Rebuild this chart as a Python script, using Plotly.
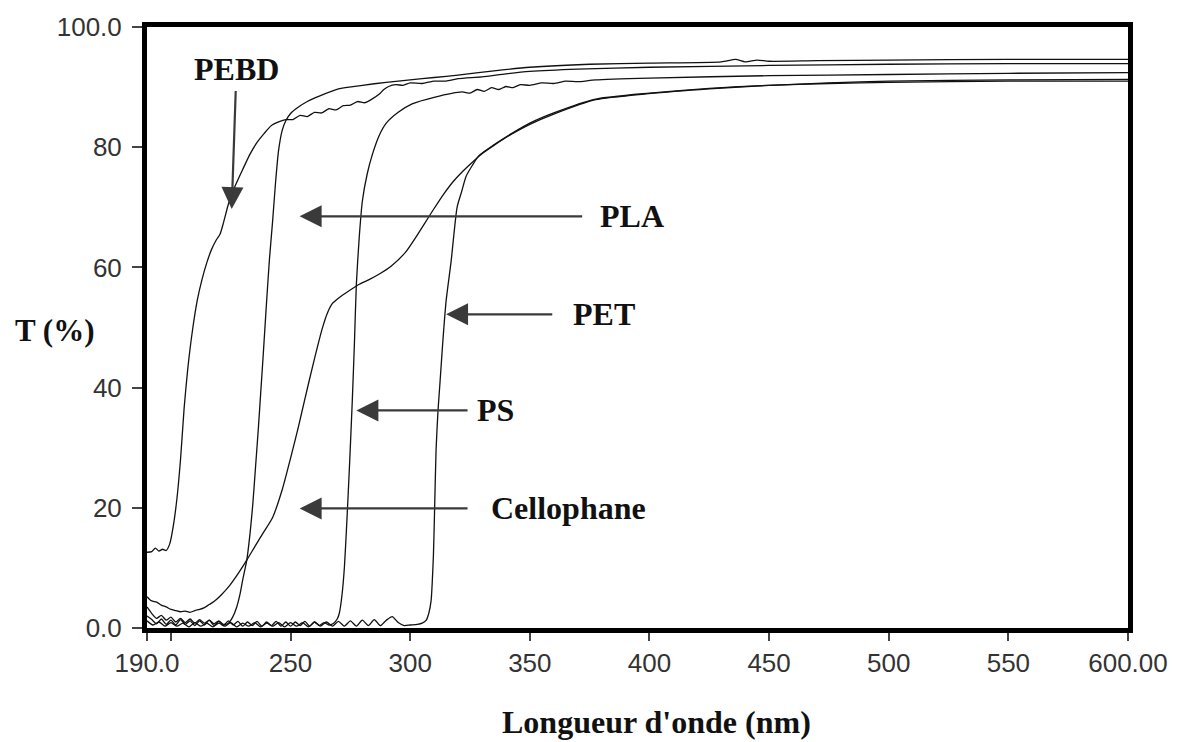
import plotly.graph_objects as go

# ---------------- data (wavelength nm, transmittance %) ----------------
pebd_nm = [190, 192, 193.5, 195, 196.5, 198, 199.5, 201, 202.5, 204, 205.5, 207, 209, 211, 213, 215, 217, 219,
           220.5, 222, 224, 226, 228, 230, 233, 236, 239, 242, 245, 248, 251, 254, 257, 260, 263, 266, 269, 272,
           275, 278, 281, 284, 287, 289, 291, 294, 297, 300, 305, 310, 315, 320, 330, 340, 350, 370, 400, 450,
           500, 550, 600]
pebd_t = [12.6, 12.7, 13.3, 12.8, 13.1, 12.9, 14.0, 17.0, 21.5, 28.0, 36.5, 43.0, 49.5, 54.5, 58.0, 60.8, 63.0, 64.6,
          65.5, 67.5, 70.5, 72.8, 74.6, 76.3, 78.8, 80.8, 82.3, 83.6, 84.2, 84.6, 84.6, 85.3, 85.1, 85.8, 85.7, 86.4,
          86.2, 86.9, 87.0, 87.6, 87.4, 88.0, 88.8, 89.6, 90.1, 90.4, 90.3, 90.7, 90.6, 91.0, 91.0, 91.4, 91.7, 92.2,
          92.6, 93.0, 93.3, 93.6, 93.8, 93.9, 93.9]

pla_nm = [190, 192, 194, 196, 198, 200, 202, 204, 206, 208, 210, 212, 214, 216, 218, 220, 222, 224, 225.8, 227.5,
          228.8, 230, 231.7, 233, 234.2, 235.4, 236.5, 237.5, 238.5, 240, 241.2, 242.5, 243.7, 245, 246.5, 248, 250,
          253, 257, 262, 270, 280, 290, 300, 310, 320, 335, 350, 375, 400, 430, 436, 440, 445, 450, 470, 500, 550, 600]
pla_t = [3.5, 2.4, 1.6, 2.1, 1.3, 1.8, 1.0, 1.6, 0.9, 1.5, 0.8, 1.4, 0.8, 1.3, 0.7, 1.2, 0.6, 0.8, 1.8, 3.5,
         5.5, 8.0, 11.3, 15.5, 20.5, 27.0, 33.0, 39.0, 45.0, 54.4, 61.5, 67.7, 74.0, 79.5, 82.8, 84.4, 85.6,
         86.6, 87.6, 88.5, 89.7, 90.3, 90.8, 91.2, 91.6, 92.0, 92.7, 93.3, 93.8, 94.0, 94.2, 94.6, 94.2, 94.5, 94.3,
         94.4, 94.5, 94.6, 94.6]

ps_nm = [190, 192, 194, 196, 198, 200, 202, 204, 206, 208, 210, 212, 214, 216, 218, 220, 222, 224, 226, 228,
         230, 232, 234, 236, 238, 240, 242, 244, 246, 248, 250, 252, 254, 256, 258, 260, 262, 264, 266, 268,
         269.5, 270.4, 271.5, 272.5, 273.5, 274.6, 275.8, 276.7, 277.5, 278.7, 280, 282, 284.2, 287.1, 290, 295,
         300.8, 310, 321.7, 325, 328, 331, 334, 337, 340, 343, 346, 350, 355, 360, 365, 370, 377.5, 400, 450,
         500, 550, 600]
ps_t = [2.0, 1.4, 0.7, 1.5, 0.6, 1.3, 0.5, 1.4, 0.6, 1.2, 0.4, 1.2, 0.5, 1.3, 0.4, 1.1, 0.4, 1.2, 0.5, 1.1,
        0.3, 1.0, 0.4, 1.1, 0.3, 1.0, 0.4, 1.1, 0.3, 1.0, 0.3, 1.0, 0.4, 1.1, 0.3, 1.0, 0.4, 0.9, 0.5, 0.8,
        1.5, 2.5, 5.5, 10.1, 17.5, 26.7, 37.8, 47.5, 57.2, 65.0, 71.0, 75.5, 78.8, 82.0, 84.0, 85.8,
        87.2, 88.3, 89.2, 89.0, 89.6, 89.3, 89.9, 89.6, 90.1, 89.9, 90.4, 90.3, 90.7, 90.6, 91.0, 90.9, 91.2, 91.5,
        91.9, 92.1, 92.3, 92.4]

cello_nm = [190, 191, 192, 194, 196, 198, 200, 202, 204, 206, 208, 210, 212, 214, 216, 218, 221, 224.6, 228,
            231.7, 235, 238.5, 242.5, 246.5, 250.8, 253.3, 255.8, 259.5, 263.3, 265.5, 267.5, 270.4, 274, 278.75,
            283, 287.1, 292, 298, 302, 306, 310, 314, 318, 322, 326, 330, 335, 342.5, 350, 360, 377.5,
            399.6, 425, 450, 475, 500, 550, 600]
cello_t = [5.2, 4.8, 4.5, 4.3, 3.8, 3.5, 3.1, 2.9, 2.7, 2.8, 2.6, 2.9, 3.1, 3.4, 3.9, 4.4, 5.5, 7.1, 9.0,
           11.3, 13.5, 15.8, 18.4, 23.0, 29.5, 33.5, 37.8, 44.0, 49.9, 52.5, 54.0, 55.0, 56.0, 57.2,
           58.0, 58.9, 60.2, 62.5, 64.8, 67.3, 69.8, 72.2, 74.3, 76.0, 77.5, 78.9, 80.3, 82.2, 83.8, 85.5, 87.9,
           88.9, 89.7, 90.3, 90.7, 91.0, 91.2, 91.3]

pet_nm = [190, 192.5, 195, 197.5, 200, 202.5, 205, 207.5, 210, 212.5, 215, 217.5, 220, 222.5, 225, 227.5, 230,
          232.5, 235, 237.5, 240, 242.5, 245, 247.5, 250, 252.5, 255, 257.5, 260, 262.5, 265, 267.5, 270, 272.5,
          275, 277.5, 280, 282.5, 285, 287.5, 290, 292.5, 295, 297.5, 300, 303, 305, 306.7, 307.8, 308.75, 309.2,
          309.7, 310.1, 310.8, 311.6, 312.5, 313.7, 315, 317.1, 319.6, 321.5, 323.3, 326, 328.75, 335, 342.5, 350,
          360, 377.5, 400, 425, 450, 475, 500, 550, 600]
pet_t = [1.2, 0.5, 1.0, 0.3, 0.9, 0.3, 0.8, 0.2, 0.9, 0.3, 0.8, 0.2, 0.8, 0.3, 0.9, 0.2, 0.8, 0.3,
         0.9, 0.2, 0.8, 0.3, 0.9, 0.2, 0.9, 0.3, 0.9, 0.2, 1.0, 0.3, 1.0, 0.3, 1.1, 0.3, 1.2, 0.3, 1.3,
         0.4, 1.4, 0.4, 1.3, 1.9, 0.9, 0.4, 0.5, 0.6, 0.8, 1.3, 2.5, 4.6, 7.5, 12.0, 18.0, 29.5, 36.0, 41.1,
         48.0, 54.4, 61.0, 70.0, 72.6, 75.1, 77.0, 78.6, 80.4, 82.3, 84.0, 85.7, 88.0, 89.0, 89.8, 90.3, 90.6,
         90.8, 91.0, 91.0]

x_tickvals = [190, 200, 250, 300, 350, 400, 450, 500, 550, 600]
x_ticktext = ["190.0", "", "250", "300", "350", "400", "450", "500", "550", "600.00"]
y_tickvals = [0, 20, 40, 60, 80, 100]
y_ticktext = ["0.0", "20", "40", "60", "80", "100.0"]

# label text, label position, arrow head, arrow tail
labels = ["PEBD", "PLA", "PET", "PS", "Cellophane"]
label_x = [227.5, 392.5, 380.8, 335.8, 366.3]
label_y = [93.0, 68.5, 52.2, 36.2, 19.9]
head_x = [225.4, 253.8, 315.0, 277.5, 253.8]
head_y = [69.7, 68.5, 52.2, 36.2, 19.9]
tail_x = [227.1, 372.5, 360.0, 324.6, 324.6]
tail_y = [89.6, 68.5, 52.2, 36.2, 19.9]

# ---------------- figure ----------------
fig = go.Figure()
for xs, ys in [(pebd_nm, pebd_t), (pla_nm, pla_t), (ps_nm, ps_t), (cello_nm, cello_t), (pet_nm, pet_t)]:
    fig.add_trace(go.Scatter(x=xs, y=ys, mode="lines", line=dict(color="#111111", width=1.3, shape="spline",
                                                                    smoothing=0.6),
                             showlegend=False, hoverinfo="skip"))

serif = "Liberation Serif, Times New Roman, serif"
annotations = []
for i, lab in enumerate(labels):
    annotations.append(dict(x=head_x[i], y=head_y[i], ax=tail_x[i], ay=tail_y[i], xref="x", yref="y",
                            axref="x", ayref="y", text="", showarrow=True, arrowhead=2, arrowsize=2.0,
                            arrowwidth=2.2, arrowcolor="#3a3a3a"))
    annotations.append(dict(x=label_x[i], y=label_y[i], xref="x", yref="y", text="<b>" + lab + "</b>",
                            showarrow=False, font=dict(family=serif, size=32, color="#111111")))
annotations.append(dict(x=-0.094, y=(628 - 330) / 6.03, xref="paper", yref="y", text="<b>T (%)</b>",
                        showarrow=False, xanchor="center", font=dict(family=serif, size=31, color="#111111")))
annotations.append(dict(x=0.519, y=-0.156, xref="paper", yref="paper", text="<b>Longueur d'onde (nm)</b>",
                        showarrow=False, xanchor="center", yanchor="middle",
                        font=dict(family=serif, size=32, color="#111111")))

fig.update_layout(
    width=1180, height=742,
    margin=dict(l=147, r=48, t=25, b=114),
    paper_bgcolor="white", plot_bgcolor="white",
    annotations=annotations,
    xaxis=dict(range=[190, 600], tickvals=x_tickvals, ticktext=x_ticktext, showgrid=False, zeroline=False,
               showline=True, linecolor="black", linewidth=5, mirror=True,
               ticks="outside", ticklen=8, tickwidth=1.5, tickcolor="#444444",
               tickfont=dict(family="Liberation Sans, Arial, sans-serif", size=26, color="#333333")),
    yaxis=dict(range=[0, 100], tickvals=y_tickvals, ticktext=y_ticktext, showgrid=False, zeroline=False,
               showline=True, linecolor="black", linewidth=5, mirror=True,
               ticks="outside", ticklen=10, tickwidth=1.5, tickcolor="#444444", ticklabelstandoff=5,
               tickfont=dict(family="Liberation Sans, Arial, sans-serif", size=26, color="#333333")),
)

fig.write_html("out.html")
